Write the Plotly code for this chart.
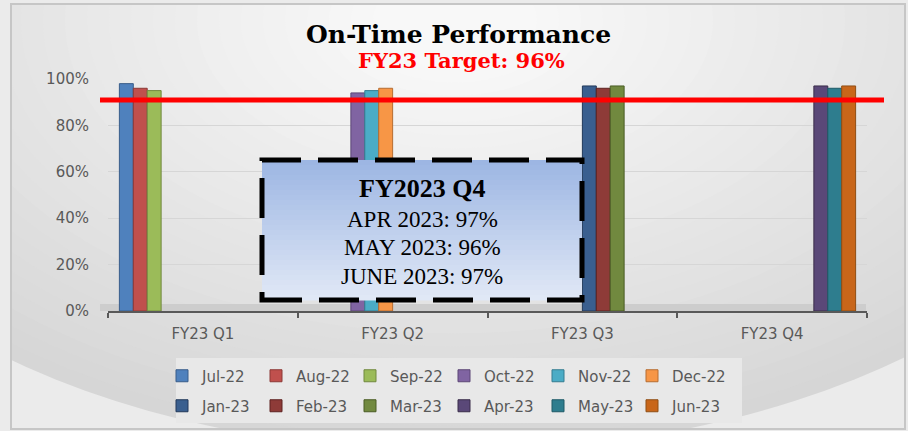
import plotly.graph_objects as go

# ---------------- data ----------------
CATEGORIES = ["FY23 Q1", "FY23 Q2", "FY23 Q3", "FY23 Q4"]
MONTHS = ["Jul-22", "Aug-22", "Sep-22", "Oct-22", "Nov-22", "Dec-22",
          "Jan-23", "Feb-23", "Mar-23", "Apr-23", "May-23", "Jun-23"]
MONTH_QUARTER = ["FY23 Q1"] * 3 + ["FY23 Q2"] * 3 + ["FY23 Q3"] * 3 + ["FY23 Q4"] * 3
OTP_VALUES = [98, 96, 95, 94, 95, 96, 97, 96, 97, 97, 96, 97]
Y_TICKS = [0, 20, 40, 60, 80, 100]
Y_TICK_LABELS = ["0%", "20%", "40%", "60%", "80%", "100%"]
Y_MAX = 100
TARGET_LINE_LEVEL = 91
TITLE = "On-Time Performance"
SUBTITLE = "FY23 Target: 96%"
BOX_TITLE = "FY2023 Q4"
BOX_LABELS = ["APR 2023", "MAY 2023", "JUNE 2023"]

# ---------------- styles ----------------
COLORS = ["#4F81BD", "#C0504D", "#9BBB59", "#8064A2", "#4BACC6", "#F79646",
          "#3A5F8F", "#8E3B38", "#71893F", "#5A4878", "#2E7D8E", "#C8661A"]
EDGES = ["#385D8A", "#8C3836", "#71893F", "#5C4776", "#357D91", "#B66D31",
         "#22395A", "#5E2220", "#4A5C25", "#3A2D4A", "#1F5A67", "#8F4E14"]

W, H = 908, 431
L, R, T, B = 108, 867, 79, 311


def px(x):
    return (x - L) / (R - L)


def py(y):
    return (B - y) / (B - T)


def lerp_color(c1, c2, t):
    a = [int(c1[i:i + 2], 16) for i in (1, 3, 5)]
    b = [int(c2[i:i + 2], 16) for i in (1, 3, 5)]
    return "#" + "".join(f"{round(a[k] + (b[k] - a[k]) * t):02x}" for k in range(3))


fig = go.Figure()
for i, m in enumerate(MONTHS):
    yvals = [OTP_VALUES[i] if c == MONTH_QUARTER[i] else None for c in CATEGORIES]
    fig.add_trace(go.Bar(
        x=CATEGORIES, y=yvals, name=m,
        marker=dict(color=COLORS[i], line=dict(color=EDGES[i], width=1)),
        legend="legend" if i < 6 else "legend2",
        hovertemplate=m + ": %{y}%<extra></extra>",
    ))

shapes = []
# soft radial background gradient (light near the title)
N = 30
for k in range(N):
    t = k / (N - 1)
    rx = 720 - k * 22
    ry = rx * 0.6
    cx, cy = 455, 20
    shapes.append(dict(type="circle", xref="paper", yref="paper", layer="below",
                       x0=px(cx - rx), x1=px(cx + rx), y0=py(cy + ry), y1=py(cy - ry),
                       fillcolor=lerp_color("#d6d6d6", "#f8f8f8", t),
                       line=dict(width=0)))
# outside margins
for (x0, y0, x1, y1) in [(0, 0, 11, H), (905, 0, W, H), (0, 0, W, 4), (0, 429, W, H)]:
    shapes.append(dict(type="rect", xref="paper", yref="paper", layer="below",
                       x0=px(x0), x1=px(x1), y0=py(y1), y1=py(y0),
                       fillcolor="#ebebeb", line=dict(width=0)))
# frame
shapes.append(dict(type="rect", xref="paper", yref="paper", layer="below",
                   x0=px(11), x1=px(905), y0=py(429), y1=py(4),
                   line=dict(color="#c6c6c6", width=2)))
# legend box
shapes.append(dict(type="rect", xref="paper", yref="paper", layer="below",
                   x0=px(176), x1=px(742), y0=py(423), y1=py(358),
                   fillcolor="#e8e8e8", line=dict(width=0)))
# floor strip
shapes.append(dict(type="rect", xref="paper", yref="paper", layer="below",
                   x0=px(100), x1=px(866), y0=0, y1=py(304),
                   fillcolor="#cdcdcd", line=dict(width=0)))
# target line
shapes.append(dict(type="line", xref="paper", yref="paper", layer="above",
                   x0=px(100), x1=px(884),
                   y0=TARGET_LINE_LEVEL / Y_MAX, y1=TARGET_LINE_LEVEL / Y_MAX,
                   line=dict(color="#ff0000", width=5)))
# text box gradient
bx0, bx1, by0, by1 = 262, 582, 160, 300
NS = 28
for k in range(NS):
    y0 = by0 + (by1 - by0) * k / NS
    y1 = by0 + (by1 - by0) * (k + 1) / NS + 0.6
    shapes.append(dict(type="rect", xref="paper", yref="paper", layer="above",
                       x0=px(bx0), x1=px(bx1), y0=py(y1), y1=py(y0),
                       fillcolor=lerp_color("#9db6e3", "#e0e8f6", k / (NS - 1)),
                       line=dict(width=0)))
shapes.append(dict(type="rect", xref="paper", yref="paper", layer="above",
                   x0=px(bx0), x1=px(bx1), y0=py(by1), y1=py(by0),
                   line=dict(color="black", width=5, dash="40px,17px")))

annotations = [
    dict(text=TITLE, x=px(458), y=py(34), xref="paper", yref="paper",
         showarrow=False, xanchor="center", yanchor="middle",
         font=dict(family="DejaVu Serif", size=25, color="black", weight="bold")),
    dict(text=SUBTITLE, x=px(461), y=py(60), xref="paper", yref="paper",
         showarrow=False, xanchor="center", yanchor="middle",
         font=dict(family="DejaVu Serif", size=21, color="#ff0000", weight="bold")),
    dict(text=BOX_TITLE, x=px(422), y=py(188), xref="paper", yref="paper",
         showarrow=False, xanchor="center", yanchor="middle",
         font=dict(family="Liberation Serif", size=26, color="black", weight="bold")),
]
for j, lab in enumerate(BOX_LABELS):
    annotations.append(dict(
        text=f"{lab}: {OTP_VALUES[9 + j]}%", x=px(422), y=py(219 + 28.5 * j),
        xref="paper", yref="paper", showarrow=False, xanchor="center", yanchor="middle",
        font=dict(family="Liberation Serif", size=23, color="black")))

legend_common = dict(orientation="h", xanchor="left", yanchor="middle",
                     font=dict(family="DejaVu Sans", size=15, color="#595959"),
                     bgcolor="rgba(0,0,0,0)", borderwidth=0,
                     entrywidth=49, entrywidthmode="pixels", traceorder="normal",
                     itemclick=False, itemdoubleclick=False)

fig.update_layout(
    width=W, height=H,
    margin=dict(l=L, r=W - R, t=T, b=H - B, autoexpand=False),
    paper_bgcolor="#ebebeb", plot_bgcolor="rgba(0,0,0,0)",
    barmode="group", bargap=0.12, bargroupgap=0,
    showlegend=True,
    legend=dict(x=px(162), y=py(376), **legend_common),
    legend2=dict(x=px(162), y=py(406), **legend_common),
    shapes=shapes, annotations=annotations,
    xaxis=dict(type="category", categoryorder="array", categoryarray=CATEGORIES,
               tickson="boundaries", ticks="outside", ticklen=5, tickwidth=2,
               tickcolor="#595959", showline=True, linecolor="#595959", linewidth=2,
               showgrid=False, ticklabelstandoff=8,
               tickfont=dict(family="DejaVu Sans", size=15, color="#595959")),
    yaxis=dict(range=[0, Y_MAX], tickvals=Y_TICKS, ticktext=Y_TICK_LABELS,
               showgrid=True, gridcolor="#d6d6d6", gridwidth=1, zeroline=False,
               showline=False, ticks="", ticklabelstandoff=18,
               tickfont=dict(family="DejaVu Sans", size=15, color="#595959")),
)

fig.write_html("out.html", config={"displayModeBar": False},
               post_script="document.body.style.margin='0';")
